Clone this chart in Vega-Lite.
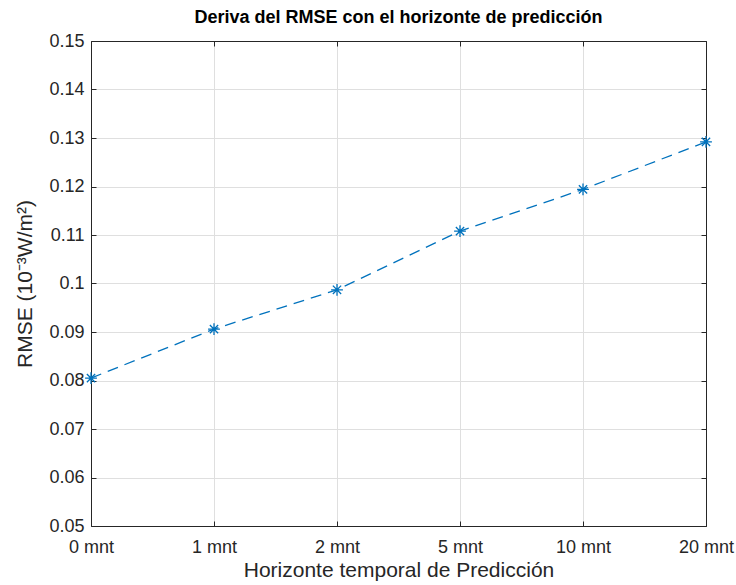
{
  "$schema": "https://vega.github.io/schema/vega-lite/v6.json",
  "autosize": {"type": "none"},
  "padding": {"left": 91, "top": 41, "right": 30, "bottom": 59},
  "width": 615,
  "height": 485,
  "background": "white",
  "config": {
    "font": "Liberation Sans",
    "view": {"stroke": null},
    "axis": {
      "labelFont": "Liberation Sans",
      "titleFont": "Liberation Sans",
      "labelColor": "#262626",
      "titleColor": "#262626",
      "domainColor": "#262626",
      "tickColor": "#262626",
      "gridColor": "#dfdfdf",
      "gridWidth": 1,
      "domainWidth": 1,
      "tickWidth": 1,
      "labelFontSize": 18,
      "titleFontSize": 21,
      "titleFontWeight": "normal"
    }
  },
  "title": {
    "text": "Deriva del RMSE con el horizonte de predicción",
    "font": "Liberation Sans",
    "fontSize": 18,
    "fontWeight": "bold",
    "color": "#000000",
    "anchor": "middle",
    "frame": "group",
    "offset": 5
  },
  "data": {
    "values": [
      {"horizonte": "0 mnt", "rmse": 0.0805},
      {"horizonte": "1 mnt", "rmse": 0.0906},
      {"horizonte": "2 mnt", "rmse": 0.0987},
      {"horizonte": "5 mnt", "rmse": 0.1108},
      {"horizonte": "10 mnt", "rmse": 0.1194},
      {"horizonte": "20 mnt", "rmse": 0.1292}
    ]
  },
  "resolve": {"axis": {"x": "independent", "y": "independent"}},
  "layer": [
    {
      "mark": {"type": "line", "color": "#0072BD", "strokeWidth": 1.3, "strokeDash": [11, 7]},
      "encoding": {
        "x": {
          "field": "horizonte", "type": "ordinal", "sort": null,
          "scale": {"type": "point", "padding": 0},
          "axis": {"orient": "bottom", "title": "Horizonte temporal de Predicción", "labelAngle": 0, "grid": true, "tickSize": -5, "labelPadding": 17, "titlePadding": 3, "domain": true}
        },
        "y": {
          "field": "rmse", "type": "quantitative",
          "scale": {"domain": [0.05, 0.15], "nice": false, "zero": false},
          "axis": {"orient": "left", "title": "RMSE (10⁻³W/m²)", "values": [0.05, 0.06, 0.07, 0.08, 0.09, 0.1, 0.11, 0.12, 0.13, 0.14, 0.15], "format": "~g", "grid": true, "tickSize": -5, "labelPadding": 12, "titlePadding": 13}
        }
      }
    },
    {
      "mark": {"type": "point", "shape": "M-1,0L1,0M0,-1L0,1M-0.7,-0.7L0.7,0.7M-0.7,0.7L0.7,-0.7", "filled": false, "color": "#0072BD", "strokeWidth": 1.3, "size": 140, "opacity": 1},
      "encoding": {
        "x": {
          "field": "horizonte", "type": "ordinal", "sort": null,
          "scale": {"type": "point", "padding": 0},
          "axis": {"orient": "top", "title": null, "labels": false, "grid": false, "tickSize": -5, "domain": true}
        },
        "y": {
          "field": "rmse", "type": "quantitative",
          "scale": {"domain": [0.05, 0.15], "nice": false, "zero": false},
          "axis": {"orient": "right", "title": null, "labels": false, "grid": false, "tickSize": -5, "values": [0.05, 0.06, 0.07, 0.08, 0.09, 0.1, 0.11, 0.12, 0.13, 0.14, 0.15], "domain": true}
        }
      }
    }
  ]
}
